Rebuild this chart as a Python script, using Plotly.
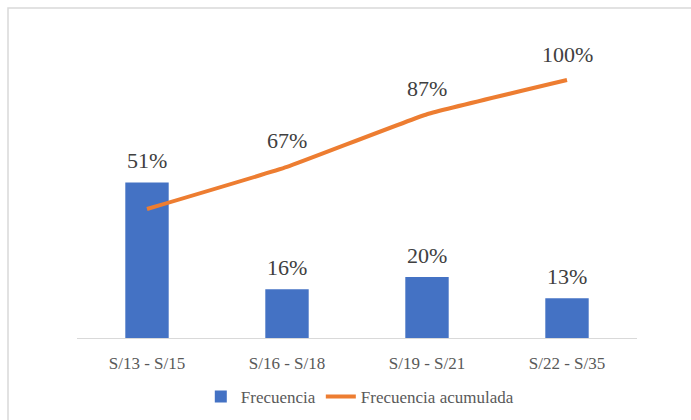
import plotly.graph_objects as go

categories = ["S/13 - S/15", "S/16 - S/18", "S/19 - S/21", "S/22 - S/35"]
frecuencia = [51, 16, 20, 13]
acumulada = [51, 67, 87, 100]
series_names = ["Frecuencia", "Frecuencia acumulada"]

BLUE = "#4472C4"
ORANGE = "#ED7D31"
FONT = "Liberation Serif"

W, H = 691, 420
ML, MR, MT, MB = 77, 54, 30, 82
PW, PH = W - ML - MR, H - MT - MB

fig = go.Figure()
fig.add_trace(go.Bar(
    x=categories, y=frecuencia, name=series_names[0],
    marker=dict(color=BLUE, line=dict(width=0)),
    width=0.31, hoverinfo="skip",
))
fig.add_trace(go.Scatter(
    x=categories, y=acumulada, name=series_names[1], yaxis="y2",
    mode="lines", line=dict(color=ORANGE, width=4, shape="spline", smoothing=0.3),
    hoverinfo="skip",
))

annotations = []
for c, v in zip(categories, frecuencia):
    annotations.append(dict(x=c, y=v, xref="x", yref="y", text=f"{v}%",
                            showarrow=False, yanchor="middle", yshift=22,
                            font=dict(family=FONT, size=22, color="#404040")))
for c, v in list(zip(categories, acumulada))[1:]:
    annotations.append(dict(x=c, y=v, xref="x", yref="y2", text=f"{v}%",
                            showarrow=False, yanchor="middle", yshift=26,
                            font=dict(family=FONT, size=22, color="#404040")))

# outer chart border (extends past the right and bottom edges)
bx0 = (8 - ML) / PW
by1 = (MT + PH - 8) / PH

fig.update_layout(
    width=W, height=H,
    margin=dict(l=ML, r=MR, t=MT, b=MB, autoexpand=False),
    paper_bgcolor="white", plot_bgcolor="white",
    font=dict(family=FONT, size=17, color="#595959"),
    showlegend=True,
    legend=dict(orientation="h", x=0.505, xanchor="center", y=(338 - 397) / PH, yanchor="middle",
                font=dict(family=FONT, size=17, color="#595959"), bgcolor="rgba(0,0,0,0)"),
    xaxis=dict(showline=True, linecolor="#D9D9D9", linewidth=1, showgrid=False,
               ticks="", tickfont=dict(family=FONT, size=17, color="#595959"),
               zeroline=False, automargin=False, ticklabelstandoff=10),
    yaxis=dict(range=[0, 101], visible=False, showgrid=False, zeroline=False, automargin=False),
    yaxis2=dict(range=[2.0, 119.0], overlaying="y", side="right", visible=False,
                showgrid=False, zeroline=False, automargin=False),
    annotations=annotations,
    shapes=[dict(type="rect", xref="paper", yref="paper", x0=bx0, x1=1.3, y0=-0.4, y1=by1,
                 line=dict(color="#D9D9D9", width=1.5), fillcolor="rgba(0,0,0,0)", layer="below")],
)

fig.write_html("out.html")
